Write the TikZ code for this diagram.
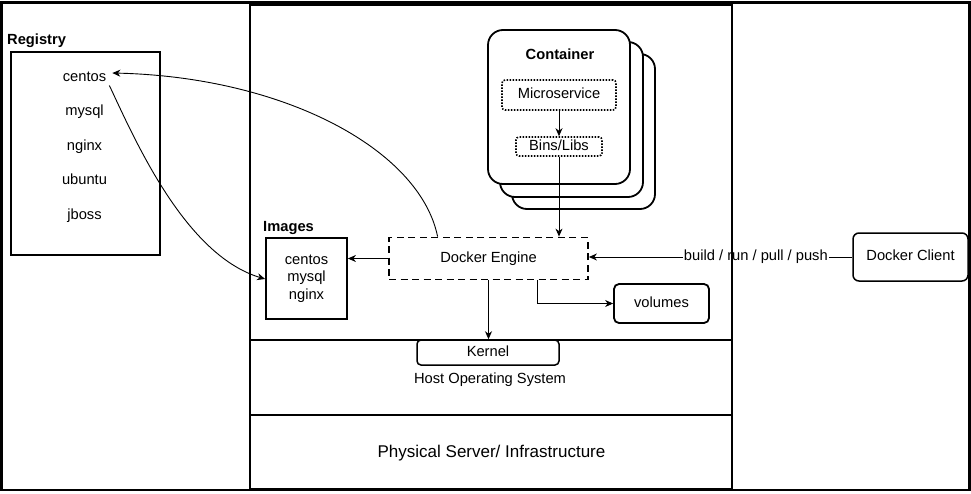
\documentclass[tikz,border=0pt]{standalone}
\usepackage{fontspec}
\setmainfont{Liberation Sans}
\usetikzlibrary{arrows.meta,calc}
\begin{document}
\begin{tikzpicture}[x=1pt,y=-1pt,
  base/.style={inner sep=0pt, font=\fontsize{14.7}{17.5}\selectfont},
  txt/.style={base, text height=10.5pt, text depth=3pt},
  bold/.style={txt, font=\fontsize{14.7}{17.5}\selectfont\bfseries},
  thickbox/.style={draw, line width=1.8pt},
  dotbox/.style={txt, draw, line width=1.6pt, dash pattern=on 1.5pt off 1.5pt, rounded corners=3pt},
  layer/.style={draw, line width=1.8pt, fill=white, rounded corners=15pt},
  conn/.style={line width=0.9pt, -{Stealth[length=8pt,width=7pt,inset=2.5pt]}},
]
\useasboundingbox (0,0) rectangle (971,493);
\draw[line width=2.5pt] (1.5,2.5) rectangle (969.5,490);

% Registry
\node[bold, anchor=west] (reglbl) at (7,41) {Registry};
\node[thickbox, minimum width=149pt, minimum height=203pt] (reg) at (85.5,153.5) {};
\node[txt, inner xsep=3pt, inner ysep=1pt] (rc) at (84.5,77.5) {centos};
\node[txt] (rm) at (84.5,112) {mysql};
\node[txt] (rn) at (84.5,146.5) {nginx};
\node[txt] (ru) at (84.5,181) {ubuntu};
\node[txt] (rj) at (84.5,215.5) {jboss};

% Images
\node[bold, anchor=west] (imglbl) at (263,228) {Images};
\node[thickbox, base, minimum width=81pt, minimum height=81pt, align=center] (img) at (306.5,278.5) {centos\\mysql\\nginx};

% Docker engine and volumes
\node[txt, draw, line width=1.8pt, dash pattern=on 7pt off 4.5pt, minimum width=199pt, minimum height=42pt] (eng) at (488.5,258.5) {Docker Engine};
\node[txt, draw, line width=1.8pt, rounded corners=5pt, minimum width=95pt, minimum height=39pt] (vol) at (661.5,303.5) {volumes};

% Docker client
\node[txt, draw, line width=1.5pt, rounded corners=6pt, minimum width=115pt, minimum height=48pt] (dc) at (910.5,257) {Docker Client};

% Host OS and physical layers
\node[txt, draw, fill=white, line width=1.5pt, rounded corners=4pt, minimum width=142pt, minimum height=25pt] (ker) at (488,352.5) {Kernel};
\draw[line width=1.8pt] (250,340) -- (732,340);
\draw[line width=1.8pt] (250,415) -- (732,415);
\node[txt] (hos) at (490,380) {Host Operating System};
\node[base, font=\fontsize{17}{20}\selectfont, text height=12.2pt, text depth=3.5pt] (phys) at (491.5,453) {Physical Server/ Infrastructure};

% Container stack
\draw[layer] (512,54) rectangle (655,209);
\draw[layer] (500,42) rectangle (643,197);
\node[layer, minimum width=142pt, minimum height=154pt] (cont) at (559,107) {};
\node[bold] (contlbl) at (560,56) {Container};
\node[dotbox, minimum width=114pt, minimum height=30pt] (micro) at (559,95) {Microservice};
\node[dotbox, minimum width=86pt, minimum height=19pt] (bins) at (559,146.5) {Bins/Libs};

% Connectors
\draw[conn] (micro.south) -- (bins.north);
\draw[conn] (bins.south) -- (bins.south |- eng.north);
\draw[conn] (eng.west) -- (eng.west -| img.east);
\draw[conn] (eng.south) -- (eng.south |- ker.north);
\draw[conn] ($(eng.south west)+(149,0)$) |- (vol.west);
\draw[conn] ($(eng.north west)+(49.5,0)$) .. controls (420,150) and (285,77) .. ($(rc.east)+(3,-4.5)$);
\draw[conn] (rc.south east) .. controls (135,140) and (185,255) .. ($(img.west)+(0,0.5)$);
\draw[conn] (dc.west) -- node[txt, fill=white, inner xsep=1pt, pos=0.366] (lbl) {build / run / pull / push} (dc.west -| eng.east);

% Main host box (drawn last, over the label)
\draw[line width=1.8pt] (250,5) rectangle (732,489);
\end{tikzpicture}
\end{document}
